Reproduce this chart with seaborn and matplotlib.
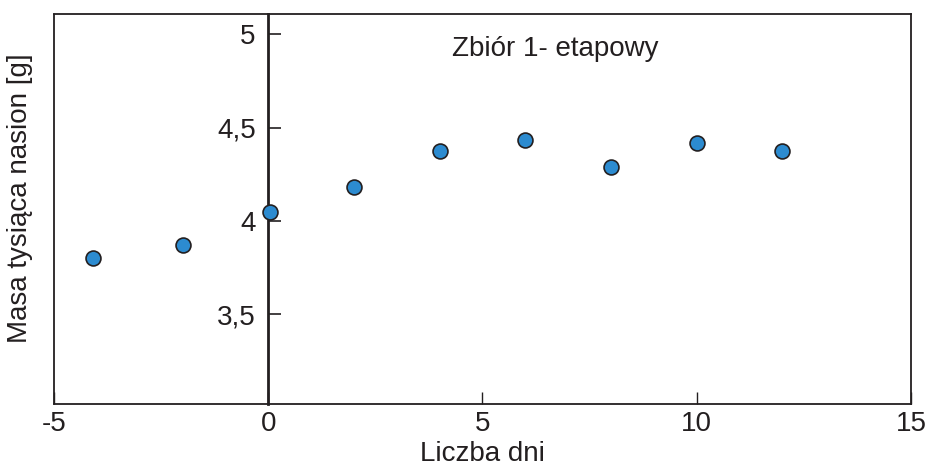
import matplotlib
matplotlib.use("Agg")
import matplotlib.pyplot as plt
import seaborn as sns
import pandas as pd

days = [-4.1, -2.0, 0.05, 2.0, 4.0, 6.0, 8.0, 10.0, 12.0]
mass = [3.80, 3.873, 4.046, 4.181, 4.376, 4.435, 4.289, 4.419, 4.376]
x_ticks = [-5, 0, 5, 10, 15]
y_ticks = [3.5, 4.0, 4.5, 5.0]
y_tick_labels = ["3,5", "4", "4,5", "5"]
title_text = "Zbiór 1- etapowy"
x_label = "Liczba dni"
y_label = "Masa tysiąca nasion [g]"

sns.set_theme(style="white")
plt.rcParams["font.family"] = ["Liberation Sans", "DejaVu Sans"]

df = pd.DataFrame({"days": days, "mass": mass})

fig = plt.figure(figsize=(9.29, 4.68), dpi=100)
ax = fig.add_axes([54 / 929, 1 - 404 / 468, (911 - 54) / 929, (404 - 14) / 468])

dark = "#231f20"
sns.scatterplot(data=df, x="days", y="mass", ax=ax, s=115, color="#2c8bd0",
                edgecolor=dark, linewidth=1.2, zorder=5, clip_on=False)

ax.set_xlim(-5, 15)
ax.set_ylim(3.02, 5.108)
ax.set_xticks(x_ticks)
ax.set_xticklabels([str(v) for v in x_ticks])
ax.set_yticks(y_ticks)
ax.set_yticklabels(y_tick_labels)

for s in ["top", "right", "bottom", "left"]:
    ax.spines[s].set_color(dark)
    ax.spines[s].set_linewidth(1.3)
ax.spines["left"].set_position(("data", 0))
ax.spines["left"].set_linewidth(2.0)
ax.spines["left"].set_zorder(3)
# outer frame on the left edge
ax.plot([0, 0], [0, 1], transform=ax.transAxes, color=dark, lw=1.3, clip_on=False)

ax.tick_params(axis="y", direction="in", length=9, width=1.2, color=dark,
               labelsize=20, pad=9, labelcolor=dark, left=True)
ax.tick_params(axis="x", direction="in", length=9, width=1.0, color=dark,
               labelsize=20, pad=5, labelcolor=dark, bottom=True)

ax.set_xlabel(x_label, fontsize=20, color=dark, labelpad=3)
ax.set_ylabel(y_label, fontsize=20, color=dark)
ax.yaxis.set_label_coords(-0.024, 0.528)

ax.text(6.7, 4.92, title_text, fontsize=20, color=dark, ha="center", va="center")

fig.savefig("out.png", dpi=100)
